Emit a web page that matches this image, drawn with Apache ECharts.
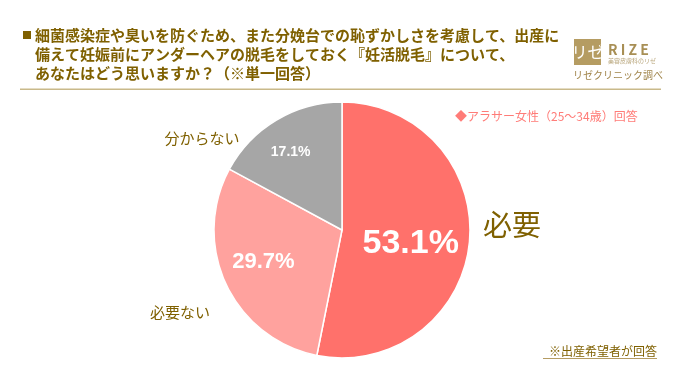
<!DOCTYPE html>
<html><head><meta charset="utf-8">
<script src="https://cdn.jsdelivr.net/npm/echarts@6/dist/echarts.min.js"></script>
<style>html,body{margin:0;padding:0;background:#fff}#c{width:683px;height:379px}</style>
</head><body><div id="c"></div>
<script>
const categories = ['必要', '必要ない', '分からない'];
const values = [53.1, 29.7, 17.1];
const colors = ['#FF716B', '#FFA29E', '#A6A6A6'];
const titleLines = [
  '細菌感染症や臭いを防ぐため、また分娩台での恥ずかしさを考慮して、出産に',
  '備えて妊娠前にアンダーヘアの脱毛をしておく『妊活脱毛』について、',
  'あなたはどう思いますか？（※単一回答）'
];
const legendText = '◆アラサー女性（25～34歳）回答';
const noteText = '※出産希望者が回答';

const F = '"Noto Sans CJK JP", "Noto Sans", sans-serif';
const olive = '#7F6000';
const labelFonts = [34, 22, 14];
const labelOffsets = [[2, 7], [-18, 3], [-17, -20]];
const outerLabelPos = [[512, 225, 29], [180, 312, 15], [202, 138, 15]];

const chart = echarts.init(document.getElementById('c'));
const graphics = [];
graphics.push({type: 'rect', shape: {x: 23, y: 31, width: 8, height: 8}, style: {fill: olive}});
titleLines.forEach((t, i) => {
  graphics.push({type: 'text', x: 35, y: 35 + i * 19,
    style: {text: t, font: 'bold 15px ' + F, fill: olive, verticalAlign: 'middle'}});
});
graphics.push({type: 'rect', shape: {x: 20, y: 88.5, width: 641, height: 1.5}, style: {fill: '#C9B98A'}});
graphics.push({type: 'rect', shape: {x: 574, y: 39, width: 27, height: 26}, style: {fill: '#B59C62'}});
graphics.push({type: 'text', x: 587.5, y: 52, style: {text: 'リゼ', font: '16px ' + F, fill: '#fff', align: 'center', verticalAlign: 'middle'}});
graphics.push({type: 'text', x: 608, y: 50, style: {text: 'R I Z E', font: 'bold 14px ' + F, fill: '#A88F55', verticalAlign: 'middle'}});
graphics.push({type: 'text', x: 608, y: 61, style: {text: '美容皮膚科のリゼ', font: '6px ' + F, fill: '#B8A57A', verticalAlign: 'middle'}});
graphics.push({type: 'text', x: 618, y: 75, style: {text: 'リゼクリニック調べ', font: '10px ' + F, fill: '#A0844A', align: 'center', verticalAlign: 'middle'}});
graphics.push({type: 'text', x: 455, y: 116, style: {text: legendText, font: '12px ' + F, fill: '#FF7C78', verticalAlign: 'middle'}});
graphics.push({type: 'text', x: 657, y: 351, style: {text: noteText, font: '12px ' + F, fill: olive, align: 'right', verticalAlign: 'middle'}});
graphics.push({type: 'rect', shape: {x: 543, y: 358, width: 114, height: 1}, style: {fill: '#B59C62'}});
categories.forEach((c, i) => {
  const p = outerLabelPos[i];
  graphics.push({type: 'text', x: p[0], y: p[1], style: {text: c, font: p[2] + 'px ' + F, fill: olive, align: 'center', verticalAlign: 'middle'}});
});

chart.setOption({
  animation: false,
  graphic: graphics,
  series: [{
    type: 'pie',
    center: [342, 230],
    radius: [0, 128],
    startAngle: 90,
    clockwise: true,
    avoidLabelOverlap: false,
    itemStyle: {borderColor: '#fff', borderWidth: 1.5},
    labelLine: {show: false},
    data: categories.map((c, i) => ({
      name: c, value: values[i],
      itemStyle: {color: colors[i]},
      label: {show: true, position: 'inside', formatter: values[i].toFixed(1) + '%',
        color: '#fff', fontWeight: 'bold', fontSize: labelFonts[i], fontFamily: 'Arial, "Liberation Sans", sans-serif',
        offset: labelOffsets[i]}
    }))
  }]
});
</script></body></html>
